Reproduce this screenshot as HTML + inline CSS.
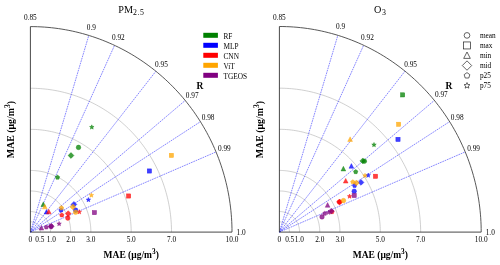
<!DOCTYPE html>
<html><head><meta charset="utf-8"><style>
html,body{margin:0;padding:0;background:#fff;width:500px;height:265px;overflow:hidden}
svg{display:block;will-change:transform}
text{font-family:"Liberation Serif", serif;fill:#000}
</style></head><body>
<svg width="500" height="265" viewBox="0 0 500 265">
<path d="M40.48,232.10 L40.48,231.92 L40.47,231.74 L40.47,231.56 L40.46,231.38 L40.44,231.20 L40.42,231.03 L40.40,230.85 L40.38,230.67 L40.36,230.49 L40.33,230.32 L40.29,230.14 L40.26,229.96 L40.22,229.79 L40.18,229.61 L40.14,229.44 L40.09,229.27 L40.04,229.10 L39.99,228.92 L39.93,228.75 L39.87,228.59 L39.81,228.42 L39.75,228.25 L39.68,228.09 L39.61,227.92 L39.54,227.76 L39.46,227.60 L39.38,227.44 L39.30,227.28 L39.22,227.12 L39.13,226.96 L39.04,226.81 L38.95,226.66 L38.85,226.50 L38.76,226.35 L38.66,226.21 L38.55,226.06 L38.45,225.92 L38.34,225.77 L38.23,225.63 L38.12,225.50 L38.01,225.36 L37.89,225.22 L37.77,225.09 L37.65,224.96 L37.53,224.83 L37.40,224.71 L37.27,224.59 L37.14,224.46 L37.01,224.35 L36.88,224.23 L36.74,224.11 L36.61,224.00 L36.47,223.89 L36.32,223.79 L36.18,223.68 L36.04,223.58 L35.89,223.48 L35.74,223.39 L35.59,223.29 L35.44,223.20 L35.29,223.11 L35.13,223.03 L34.98,222.94 L34.82,222.86 L34.66,222.79 L34.50,222.71 L34.34,222.64 L34.18,222.57 L34.01,222.51 L33.85,222.44 L33.68,222.38 L33.51,222.33 L33.35,222.27 L33.18,222.22 L33.01,222.18 L32.84,222.13 L32.67,222.09 L32.50,222.05 L32.32,222.01 L32.15,221.98 L31.98,221.95 L31.80,221.92 L31.63,221.90 L31.45,221.88 L31.28,221.86 L31.10,221.85 L30.93,221.84 L30.75,221.83 L30.58,221.83 L30.40,221.82" fill="none" stroke="#b0b0b0" stroke-width="0.6"/>
<path d="M50.56,232.10 L50.56,231.74 L50.55,231.38 L50.53,231.02 L50.51,230.67 L50.48,230.31 L50.45,229.95 L50.41,229.60 L50.36,229.24 L50.31,228.89 L50.25,228.53 L50.19,228.18 L50.12,227.83 L50.04,227.48 L49.96,227.13 L49.87,226.78 L49.78,226.44 L49.68,226.09 L49.57,225.75 L49.46,225.41 L49.34,225.07 L49.22,224.74 L49.09,224.40 L48.96,224.07 L48.82,223.74 L48.67,223.42 L48.52,223.09 L48.36,222.77 L48.20,222.45 L48.03,222.14 L47.86,221.82 L47.68,221.52 L47.50,221.21 L47.31,220.91 L47.11,220.61 L46.91,220.31 L46.71,220.02 L46.50,219.73 L46.29,219.45 L46.07,219.17 L45.84,218.89 L45.61,218.62 L45.38,218.35 L45.14,218.08 L44.90,217.82 L44.66,217.57 L44.40,217.32 L44.15,217.07 L43.89,216.83 L43.63,216.59 L43.36,216.36 L43.09,216.13 L42.81,215.91 L42.53,215.69 L42.25,215.47 L41.96,215.27 L41.67,215.06 L41.38,214.87 L41.08,214.67 L40.78,214.49 L40.48,214.30 L40.17,214.13 L39.86,213.96 L39.55,213.79 L39.24,213.63 L38.92,213.48 L38.60,213.33 L38.28,213.18 L37.95,213.05 L37.62,212.91 L37.30,212.79 L36.96,212.67 L36.63,212.56 L36.29,212.45 L35.96,212.35 L35.62,212.25 L35.28,212.16 L34.94,212.08 L34.59,212.00 L34.25,211.93 L33.90,211.86 L33.55,211.80 L33.21,211.75 L32.86,211.70 L32.51,211.66 L32.16,211.63 L31.81,211.60 L31.46,211.58 L31.10,211.56 L30.75,211.55 L30.40,211.55" fill="none" stroke="#b0b0b0" stroke-width="0.6"/>
<path d="M70.72,232.10 L70.71,231.38 L70.70,230.67 L70.66,229.95 L70.62,229.23 L70.57,228.52 L70.50,227.80 L70.42,227.09 L70.33,226.38 L70.22,225.67 L70.11,224.96 L69.98,224.26 L69.84,223.55 L69.69,222.85 L69.52,222.16 L69.35,221.46 L69.16,220.77 L68.96,220.08 L68.75,219.40 L68.52,218.72 L68.29,218.04 L68.04,217.37 L67.78,216.70 L67.51,216.04 L67.23,215.38 L66.94,214.73 L66.64,214.08 L66.33,213.44 L66.00,212.80 L65.66,212.17 L65.32,211.55 L64.96,210.93 L64.59,210.32 L64.22,209.72 L63.83,209.12 L63.43,208.53 L63.02,207.94 L62.60,207.37 L62.17,206.80 L61.73,206.23 L61.29,205.68 L60.83,205.14 L60.36,204.60 L59.89,204.07 L59.40,203.55 L58.91,203.04 L58.41,202.54 L57.90,202.04 L57.38,201.56 L56.85,201.08 L56.32,200.62 L55.77,200.16 L55.22,199.71 L54.67,199.28 L54.10,198.85 L53.53,198.43 L52.95,198.03 L52.36,197.63 L51.77,197.25 L51.17,196.87 L50.56,196.51 L49.95,196.15 L49.33,195.81 L48.70,195.48 L48.08,195.16 L47.44,194.85 L46.80,194.55 L46.15,194.27 L45.50,193.99 L44.85,193.73 L44.19,193.48 L43.53,193.24 L42.86,193.01 L42.19,192.80 L41.51,192.59 L40.84,192.40 L40.15,192.22 L39.47,192.05 L38.78,191.90 L38.09,191.76 L37.40,191.62 L36.71,191.51 L36.01,191.40 L35.31,191.31 L34.61,191.23 L33.91,191.16 L33.21,191.10 L32.51,191.06 L31.81,191.03 L31.10,191.01 L30.40,191.00" fill="none" stroke="#b0b0b0" stroke-width="0.6"/>
<path d="M90.88,232.10 L90.87,231.02 L90.84,229.95 L90.80,228.87 L90.73,227.80 L90.65,226.73 L90.55,225.66 L90.43,224.59 L90.29,223.52 L90.14,222.46 L89.96,221.39 L89.77,220.34 L89.56,219.28 L89.33,218.23 L89.08,217.19 L88.82,216.14 L88.54,215.11 L88.24,214.08 L87.92,213.05 L87.58,212.03 L87.23,211.01 L86.86,210.01 L86.48,209.01 L86.07,208.01 L85.65,207.02 L85.21,206.05 L84.76,205.07 L84.29,204.11 L83.80,203.16 L83.30,202.21 L82.78,201.28 L82.24,200.35 L81.69,199.43 L81.12,198.52 L80.54,197.63 L79.94,196.74 L79.33,195.86 L78.70,195.00 L78.06,194.14 L77.40,193.30 L76.73,192.47 L76.04,191.65 L75.35,190.85 L74.63,190.05 L73.91,189.27 L73.17,188.51 L72.41,187.75 L71.65,187.01 L70.87,186.29 L70.08,185.57 L69.28,184.87 L68.46,184.19 L67.64,183.52 L66.80,182.86 L65.95,182.22 L65.09,181.60 L64.22,180.99 L63.34,180.40 L62.45,179.82 L61.55,179.26 L60.64,178.71 L59.72,178.18 L58.79,177.67 L57.86,177.17 L56.91,176.69 L55.96,176.23 L55.00,175.78 L54.03,175.35 L53.06,174.94 L52.07,174.54 L51.09,174.17 L50.09,173.81 L49.09,173.47 L48.08,173.14 L47.07,172.84 L46.05,172.55 L45.03,172.28 L44.01,172.03 L42.97,171.80 L41.94,171.58 L40.90,171.39 L39.86,171.21 L38.82,171.05 L37.77,170.91 L36.72,170.79 L35.67,170.68 L34.62,170.60 L33.57,170.53 L32.51,170.49 L31.46,170.46 L30.40,170.45" fill="none" stroke="#b0b0b0" stroke-width="0.6"/>
<path d="M131.20,232.10 L131.18,230.31 L131.14,228.51 L131.06,226.72 L130.95,224.93 L130.82,223.14 L130.65,221.36 L130.45,219.58 L130.22,217.80 L129.96,216.03 L129.67,214.26 L129.35,212.49 L129.00,210.74 L128.62,208.99 L128.21,207.24 L127.77,205.51 L127.30,203.78 L126.80,202.06 L126.27,200.35 L125.71,198.65 L125.12,196.96 L124.50,195.28 L123.86,193.61 L123.19,191.95 L122.49,190.31 L121.76,188.68 L121.00,187.06 L120.21,185.45 L119.40,183.86 L118.56,182.29 L117.70,180.72 L116.80,179.18 L115.88,177.65 L114.94,176.14 L113.97,174.64 L112.97,173.17 L111.95,171.71 L110.90,170.26 L109.83,168.84 L108.74,167.44 L107.62,166.05 L106.47,164.69 L105.31,163.35 L104.12,162.02 L102.91,160.72 L101.68,159.44 L100.42,158.19 L99.15,156.95 L97.85,155.74 L96.53,154.55 L95.19,153.39 L93.84,152.25 L92.46,151.13 L91.06,150.04 L89.65,148.97 L88.22,147.93 L86.77,146.92 L85.30,145.93 L83.82,144.96 L82.32,144.03 L80.80,143.12 L79.27,142.23 L77.72,141.38 L76.16,140.55 L74.59,139.75 L73.00,138.98 L71.40,138.23 L69.79,137.52 L68.16,136.83 L66.52,136.17 L64.88,135.55 L63.22,134.95 L61.55,134.38 L59.87,133.84 L58.18,133.33 L56.49,132.85 L54.79,132.40 L53.08,131.98 L51.36,131.60 L49.63,131.24 L47.90,130.91 L46.17,130.62 L44.43,130.35 L42.68,130.12 L40.94,129.91 L39.19,129.74 L37.43,129.60 L35.68,129.49 L33.92,129.41 L32.16,129.37 L30.40,129.35" fill="none" stroke="#b0b0b0" stroke-width="0.6"/>
<path d="M171.52,232.10 L171.50,229.59 L171.43,227.08 L171.33,224.57 L171.18,222.07 L170.98,219.56 L170.75,217.06 L170.47,214.57 L170.15,212.08 L169.78,209.60 L169.38,207.12 L168.93,204.65 L168.44,202.19 L167.90,199.74 L167.33,197.30 L166.71,194.87 L166.05,192.45 L165.35,190.04 L164.61,187.65 L163.83,185.27 L163.01,182.90 L162.15,180.55 L161.24,178.21 L160.30,175.89 L159.32,173.59 L158.30,171.31 L157.24,169.04 L156.14,166.79 L155.00,164.57 L153.83,162.36 L152.61,160.18 L151.36,158.01 L150.08,155.87 L148.75,153.75 L147.39,151.66 L146.00,149.59 L144.57,147.55 L143.10,145.53 L141.60,143.54 L140.07,141.57 L138.50,139.64 L136.90,137.73 L135.27,135.85 L133.61,133.99 L131.91,132.17 L130.19,130.38 L128.43,128.62 L126.64,126.89 L124.83,125.20 L122.98,123.54 L121.11,121.90 L119.21,120.31 L117.28,118.74 L115.33,117.22 L113.35,115.72 L111.34,114.26 L109.31,112.84 L107.26,111.46 L105.18,110.11 L103.08,108.80 L100.96,107.52 L98.82,106.29 L96.65,105.09 L94.47,103.93 L92.26,102.81 L90.04,101.73 L87.80,100.69 L85.54,99.69 L83.26,98.72 L80.97,97.80 L78.67,96.93 L76.34,96.09 L74.01,95.29 L71.66,94.54 L69.30,93.82 L66.92,93.15 L64.54,92.52 L62.15,91.94 L59.74,91.39 L57.33,90.89 L54.91,90.44 L52.48,90.02 L50.04,89.65 L47.60,89.32 L45.15,89.04 L42.70,88.80 L40.24,88.60 L37.79,88.45 L35.33,88.34 L32.86,88.27 L30.40,88.25" fill="none" stroke="#b0b0b0" stroke-width="0.6"/>
<line x1="30.40" y1="232.10" x2="88.79" y2="35.41" stroke="#0000ff" stroke-width="0.6" stroke-dasharray="1.7 0.8" opacity="0.8"/>
<line x1="30.40" y1="232.10" x2="114.55" y2="45.36" stroke="#0000ff" stroke-width="0.6" stroke-dasharray="1.7 0.8" opacity="0.8"/>
<line x1="30.40" y1="232.10" x2="155.86" y2="71.24" stroke="#0000ff" stroke-width="0.6" stroke-dasharray="1.7 0.8" opacity="0.8"/>
<line x1="30.40" y1="232.10" x2="185.21" y2="100.46" stroke="#0000ff" stroke-width="0.6" stroke-dasharray="1.7 0.8" opacity="0.8"/>
<line x1="30.40" y1="232.10" x2="200.43" y2="121.69" stroke="#0000ff" stroke-width="0.6" stroke-dasharray="1.7 0.8" opacity="0.8"/>
<line x1="30.40" y1="232.10" x2="216.03" y2="151.94" stroke="#0000ff" stroke-width="0.6" stroke-dasharray="1.7 0.8" opacity="0.8"/>
<path d="M232.00,232.10 L231.97,228.51 L231.88,224.93 L231.72,221.34 L231.51,217.77 L231.23,214.19 L230.90,210.62 L230.50,207.06 L230.04,203.50 L229.52,199.95 L228.94,196.42 L228.30,192.89 L227.59,189.37 L226.83,185.87 L226.01,182.39 L225.13,178.91 L224.19,175.46 L223.19,172.02 L222.13,168.60 L221.02,165.20 L219.84,161.81 L218.61,158.46 L217.32,155.12 L215.97,151.80 L214.57,148.52 L213.11,145.25 L211.60,142.01 L210.03,138.80 L208.40,135.62 L206.72,132.47 L204.99,129.35 L203.20,126.26 L201.37,123.20 L199.48,120.18 L197.53,117.19 L195.54,114.23 L193.50,111.31 L191.40,108.43 L189.26,105.58 L187.07,102.77 L184.83,100.01 L182.55,97.28 L180.22,94.59 L177.84,91.95 L175.42,89.35 L172.95,86.79 L170.44,84.28 L167.89,81.81 L165.30,79.38 L162.66,77.01 L159.99,74.68 L157.27,72.40 L154.52,70.16 L151.73,67.98 L148.90,65.85 L146.03,63.76 L143.13,61.73 L140.20,59.75 L137.23,57.83 L134.23,55.95 L131.20,54.13 L128.14,52.37 L125.05,50.65 L121.92,49.00 L118.78,47.40 L115.60,45.85 L112.40,44.37 L109.17,42.94 L105.92,41.56 L102.65,40.25 L99.35,38.99 L96.03,37.80 L92.70,36.66 L89.34,35.58 L85.97,34.56 L82.58,33.60 L79.17,32.70 L75.75,31.87 L72.31,31.09 L68.87,30.38 L65.41,29.72 L61.94,29.13 L58.46,28.60 L54.97,28.13 L51.47,27.73 L47.97,27.38 L44.46,27.10 L40.95,26.88 L37.44,26.73 L33.92,26.63 L30.40,26.60" fill="none" stroke="#3a3a3a" stroke-width="0.85"/>
<line x1="30.40" y1="26.60" x2="30.40" y2="232.10" stroke="#333" stroke-width="0.9"/>
<line x1="30.40" y1="232.10" x2="232.00" y2="232.10" stroke="#333" stroke-width="0.9"/>
<text x="30.40" y="20.35" text-anchor="middle" font-size="7.3">0.85</text>
<text x="91.42" y="29.56" text-anchor="middle" font-size="7.3">0.9</text>
<text x="118.34" y="39.96" text-anchor="middle" font-size="7.3">0.92</text>
<text x="161.51" y="67.00" text-anchor="middle" font-size="7.3">0.95</text>
<text x="192.17" y="97.54" text-anchor="middle" font-size="7.3">0.97</text>
<text x="208.08" y="119.72" text-anchor="middle" font-size="7.3">0.98</text>
<text x="224.38" y="151.33" text-anchor="middle" font-size="7.3">0.99</text>
<text x="241.07" y="235.10" text-anchor="middle" font-size="7.3">1.0</text>
<text x="30.40" y="242" text-anchor="middle" font-size="7.3">0</text>
<text x="39.88" y="242" text-anchor="middle" font-size="7.3">0.5</text>
<text x="51.26" y="242" text-anchor="middle" font-size="7.3">1.0</text>
<text x="70.72" y="242" text-anchor="middle" font-size="7.3">2.0</text>
<text x="90.88" y="242" text-anchor="middle" font-size="7.3">3.0</text>
<text x="131.20" y="242" text-anchor="middle" font-size="7.3">5.0</text>
<text x="171.52" y="242" text-anchor="middle" font-size="7.3">7.0</text>
<text x="232.00" y="242" text-anchor="middle" font-size="7.3">10.0</text>
<text x="200.00" y="88.6" text-anchor="middle" font-size="9.5" font-weight="bold">R</text>
<text x="131.20" y="257.9" text-anchor="middle" font-size="9.5" font-weight="bold">MAE (μg/m<tspan dy="-4.2" font-size="7.3">3</tspan><tspan dy="4.2">)</tspan></text>
<text transform="translate(14.20,129.6) rotate(-90) scale(1.035,1)" text-anchor="middle" font-size="9.5" font-weight="bold">MAE (μg/m<tspan dy="-4.2" font-size="7.3">3</tspan><tspan dy="4.2">)</tspan></text>
<path d="M289.49,232.10 L289.49,231.92 L289.48,231.74 L289.48,231.56 L289.47,231.38 L289.45,231.20 L289.43,231.03 L289.41,230.85 L289.39,230.67 L289.37,230.49 L289.34,230.31 L289.30,230.14 L289.27,229.96 L289.23,229.79 L289.19,229.61 L289.15,229.44 L289.10,229.27 L289.05,229.09 L289.00,228.92 L288.94,228.75 L288.88,228.58 L288.82,228.42 L288.76,228.25 L288.69,228.08 L288.62,227.92 L288.54,227.76 L288.47,227.59 L288.39,227.43 L288.31,227.27 L288.22,227.12 L288.14,226.96 L288.05,226.81 L287.96,226.65 L287.86,226.50 L287.76,226.35 L287.67,226.20 L287.56,226.06 L287.46,225.91 L287.35,225.77 L287.24,225.63 L287.13,225.49 L287.02,225.36 L286.90,225.22 L286.78,225.09 L286.66,224.96 L286.53,224.83 L286.41,224.71 L286.28,224.58 L286.15,224.46 L286.02,224.34 L285.89,224.23 L285.75,224.11 L285.61,224.00 L285.47,223.89 L285.33,223.78 L285.19,223.68 L285.04,223.58 L284.90,223.48 L284.75,223.38 L284.60,223.29 L284.44,223.20 L284.29,223.11 L284.14,223.02 L283.98,222.94 L283.82,222.86 L283.66,222.78 L283.50,222.71 L283.34,222.64 L283.18,222.57 L283.02,222.50 L282.85,222.44 L282.68,222.38 L282.52,222.32 L282.35,222.27 L282.18,222.22 L282.01,222.17 L281.84,222.13 L281.67,222.08 L281.50,222.04 L281.33,222.01 L281.15,221.98 L280.98,221.95 L280.80,221.92 L280.63,221.90 L280.45,221.88 L280.28,221.86 L280.10,221.85 L279.93,221.83 L279.75,221.83 L279.58,221.82 L279.40,221.82" fill="none" stroke="#b0b0b0" stroke-width="0.6"/>
<path d="M299.58,232.10 L299.58,231.74 L299.57,231.38 L299.55,231.02 L299.53,230.67 L299.50,230.31 L299.47,229.95 L299.43,229.59 L299.38,229.24 L299.33,228.88 L299.27,228.53 L299.21,228.18 L299.14,227.83 L299.06,227.48 L298.98,227.13 L298.89,226.78 L298.80,226.43 L298.70,226.09 L298.59,225.75 L298.48,225.41 L298.36,225.07 L298.24,224.73 L298.11,224.40 L297.98,224.07 L297.84,223.74 L297.69,223.41 L297.54,223.09 L297.38,222.77 L297.22,222.45 L297.05,222.13 L296.88,221.82 L296.70,221.51 L296.51,221.20 L296.32,220.90 L296.13,220.60 L295.93,220.31 L295.73,220.02 L295.52,219.73 L295.30,219.44 L295.08,219.16 L294.86,218.88 L294.63,218.61 L294.40,218.34 L294.16,218.08 L293.92,217.82 L293.67,217.56 L293.42,217.31 L293.16,217.06 L292.90,216.82 L292.64,216.58 L292.37,216.35 L292.10,216.12 L291.82,215.90 L291.54,215.68 L291.26,215.47 L290.97,215.26 L290.68,215.05 L290.39,214.86 L290.09,214.66 L289.79,214.48 L289.49,214.29 L289.18,214.12 L288.87,213.95 L288.56,213.78 L288.25,213.62 L287.93,213.47 L287.61,213.32 L287.28,213.17 L286.96,213.04 L286.63,212.91 L286.30,212.78 L285.97,212.66 L285.64,212.55 L285.30,212.44 L284.96,212.34 L284.62,212.24 L284.28,212.15 L283.94,212.07 L283.60,211.99 L283.25,211.92 L282.90,211.85 L282.56,211.79 L282.21,211.74 L281.86,211.69 L281.51,211.65 L281.16,211.62 L280.81,211.59 L280.46,211.57 L280.10,211.55 L279.75,211.54 L279.40,211.54" fill="none" stroke="#b0b0b0" stroke-width="0.6"/>
<path d="M319.76,232.10 L319.75,231.38 L319.74,230.66 L319.70,229.95 L319.66,229.23 L319.61,228.52 L319.54,227.80 L319.46,227.09 L319.37,226.38 L319.26,225.67 L319.15,224.96 L319.02,224.25 L318.88,223.55 L318.73,222.85 L318.56,222.15 L318.38,221.46 L318.20,220.77 L318.00,220.08 L317.78,219.39 L317.56,218.71 L317.33,218.04 L317.08,217.36 L316.82,216.70 L316.55,216.03 L316.27,215.37 L315.98,214.72 L315.68,214.07 L315.36,213.43 L315.04,212.80 L314.70,212.16 L314.35,211.54 L314.00,210.92 L313.63,210.31 L313.25,209.70 L312.86,209.11 L312.46,208.51 L312.05,207.93 L311.63,207.35 L311.20,206.78 L310.77,206.22 L310.32,205.67 L309.86,205.12 L309.39,204.59 L308.92,204.06 L308.43,203.54 L307.94,203.02 L307.44,202.52 L306.93,202.03 L306.41,201.54 L305.88,201.07 L305.34,200.60 L304.80,200.14 L304.25,199.70 L303.69,199.26 L303.12,198.83 L302.55,198.42 L301.97,198.01 L301.38,197.61 L300.79,197.23 L300.19,196.85 L299.58,196.49 L298.97,196.14 L298.35,195.79 L297.72,195.46 L297.09,195.14 L296.46,194.83 L295.82,194.54 L295.17,194.25 L294.52,193.97 L293.86,193.71 L293.20,193.46 L292.54,193.22 L291.87,192.99 L291.20,192.78 L290.52,192.57 L289.85,192.38 L289.16,192.20 L288.48,192.03 L287.79,191.88 L287.10,191.74 L286.41,191.60 L285.71,191.49 L285.02,191.38 L284.32,191.29 L283.62,191.21 L282.92,191.14 L282.22,191.08 L281.51,191.04 L280.81,191.01 L280.10,190.99 L279.40,190.98" fill="none" stroke="#b0b0b0" stroke-width="0.6"/>
<path d="M339.94,232.10 L339.93,231.02 L339.90,229.95 L339.86,228.87 L339.79,227.80 L339.71,226.72 L339.61,225.65 L339.49,224.58 L339.35,223.52 L339.19,222.45 L339.02,221.39 L338.83,220.33 L338.62,219.28 L338.39,218.23 L338.14,217.18 L337.88,216.14 L337.59,215.10 L337.29,214.07 L336.98,213.04 L336.64,212.02 L336.29,211.00 L335.92,210.00 L335.53,208.99 L335.13,208.00 L334.71,207.01 L334.27,206.03 L333.81,205.06 L333.34,204.10 L332.85,203.14 L332.35,202.20 L331.83,201.26 L331.29,200.33 L330.74,199.41 L330.17,198.51 L329.59,197.61 L328.99,196.72 L328.38,195.85 L327.75,194.98 L327.11,194.13 L326.45,193.28 L325.78,192.45 L325.09,191.63 L324.39,190.83 L323.68,190.03 L322.95,189.25 L322.21,188.49 L321.45,187.73 L320.69,186.99 L319.91,186.26 L319.12,185.55 L318.31,184.85 L317.50,184.17 L316.67,183.50 L315.83,182.84 L314.98,182.20 L314.12,181.57 L313.25,180.96 L312.37,180.37 L311.48,179.79 L310.58,179.23 L309.67,178.68 L308.75,178.15 L307.82,177.64 L306.88,177.14 L305.94,176.66 L304.99,176.20 L304.02,175.75 L303.05,175.32 L302.08,174.91 L301.10,174.52 L300.11,174.14 L299.11,173.78 L298.11,173.44 L297.10,173.12 L296.09,172.81 L295.07,172.52 L294.05,172.25 L293.02,172.00 L291.99,171.77 L290.95,171.55 L289.91,171.36 L288.87,171.18 L287.83,171.02 L286.78,170.88 L285.73,170.76 L284.68,170.65 L283.62,170.57 L282.57,170.50 L281.51,170.46 L280.46,170.43 L279.40,170.42" fill="none" stroke="#b0b0b0" stroke-width="0.6"/>
<path d="M380.30,232.10 L380.28,230.31 L380.24,228.51 L380.16,226.72 L380.05,224.93 L379.92,223.14 L379.75,221.35 L379.55,219.57 L379.32,217.79 L379.06,216.02 L378.77,214.25 L378.45,212.48 L378.10,210.73 L377.71,208.98 L377.30,207.23 L376.86,205.49 L376.39,203.76 L375.89,202.04 L375.36,200.33 L374.80,198.63 L374.21,196.94 L373.60,195.26 L372.95,193.59 L372.28,191.93 L371.58,190.29 L370.85,188.65 L370.09,187.04 L369.30,185.43 L368.49,183.84 L367.65,182.26 L366.78,180.70 L365.89,179.15 L364.97,177.62 L364.02,176.11 L363.05,174.61 L362.05,173.14 L361.03,171.68 L359.98,170.23 L358.91,168.81 L357.81,167.41 L356.69,166.02 L355.55,164.66 L354.38,163.31 L353.19,161.99 L351.98,160.69 L350.75,159.41 L349.49,158.15 L348.21,156.92 L346.92,155.70 L345.60,154.52 L344.26,153.35 L342.90,152.21 L341.52,151.09 L340.12,150.00 L338.71,148.93 L337.27,147.89 L335.82,146.87 L334.35,145.88 L332.87,144.92 L331.37,143.98 L329.85,143.07 L328.32,142.19 L326.77,141.33 L325.21,140.50 L323.63,139.70 L322.04,138.93 L320.44,138.19 L318.82,137.47 L317.20,136.79 L315.56,136.13 L313.91,135.50 L312.25,134.90 L310.58,134.33 L308.90,133.79 L307.21,133.28 L305.51,132.80 L303.81,132.35 L302.10,131.93 L300.38,131.55 L298.65,131.19 L296.92,130.86 L295.18,130.57 L293.44,130.30 L291.70,130.07 L289.95,129.86 L288.19,129.69 L286.44,129.55 L284.68,129.44 L282.92,129.36 L281.16,129.32 L279.40,129.30" fill="none" stroke="#b0b0b0" stroke-width="0.6"/>
<path d="M420.66,232.10 L420.64,229.59 L420.57,227.08 L420.47,224.57 L420.32,222.06 L420.12,219.56 L419.89,217.06 L419.61,214.56 L419.29,212.07 L418.92,209.59 L418.51,207.11 L418.06,204.64 L417.57,202.18 L417.04,199.73 L416.46,197.28 L415.85,194.85 L415.19,192.43 L414.49,190.02 L413.75,187.63 L412.96,185.24 L412.14,182.88 L411.28,180.52 L410.37,178.19 L409.43,175.87 L408.45,173.56 L407.43,171.28 L406.36,169.01 L405.26,166.76 L404.13,164.53 L402.95,162.33 L401.73,160.14 L400.48,157.98 L399.20,155.83 L397.87,153.72 L396.51,151.62 L395.11,149.55 L393.68,147.51 L392.22,145.49 L390.71,143.49 L389.18,141.53 L387.61,139.59 L386.01,137.68 L384.38,135.80 L382.71,133.95 L381.01,132.12 L379.29,130.33 L377.53,128.57 L375.74,126.84 L373.92,125.15 L372.07,123.48 L370.20,121.85 L368.30,120.25 L366.37,118.69 L364.41,117.16 L362.43,115.67 L360.42,114.21 L358.39,112.78 L356.34,111.40 L354.26,110.05 L352.15,108.74 L350.03,107.46 L347.88,106.22 L345.72,105.03 L343.53,103.87 L341.32,102.75 L339.10,101.66 L336.86,100.62 L334.59,99.62 L332.32,98.66 L330.02,97.74 L327.71,96.86 L325.39,96.02 L323.05,95.22 L320.70,94.47 L318.34,93.76 L315.96,93.08 L313.57,92.46 L311.18,91.87 L308.77,91.32 L306.35,90.82 L303.93,90.37 L301.50,89.95 L299.06,89.58 L296.62,89.25 L294.17,88.97 L291.71,88.73 L289.25,88.53 L286.79,88.38 L284.33,88.27 L281.87,88.20 L279.40,88.18" fill="none" stroke="#b0b0b0" stroke-width="0.6"/>
<line x1="279.40" y1="232.10" x2="337.85" y2="35.31" stroke="#0000ff" stroke-width="0.6" stroke-dasharray="1.7 0.8" opacity="0.8"/>
<line x1="279.40" y1="232.10" x2="363.64" y2="45.27" stroke="#0000ff" stroke-width="0.6" stroke-dasharray="1.7 0.8" opacity="0.8"/>
<line x1="279.40" y1="232.10" x2="404.99" y2="71.16" stroke="#0000ff" stroke-width="0.6" stroke-dasharray="1.7 0.8" opacity="0.8"/>
<line x1="279.40" y1="232.10" x2="434.36" y2="100.40" stroke="#0000ff" stroke-width="0.6" stroke-dasharray="1.7 0.8" opacity="0.8"/>
<line x1="279.40" y1="232.10" x2="449.60" y2="121.64" stroke="#0000ff" stroke-width="0.6" stroke-dasharray="1.7 0.8" opacity="0.8"/>
<line x1="279.40" y1="232.10" x2="465.21" y2="151.90" stroke="#0000ff" stroke-width="0.6" stroke-dasharray="1.7 0.8" opacity="0.8"/>
<path d="M481.20,232.10 L481.17,228.51 L481.08,224.92 L480.92,221.34 L480.71,217.76 L480.43,214.18 L480.09,210.61 L479.70,207.04 L479.24,203.49 L478.72,199.94 L478.13,196.40 L477.49,192.87 L476.79,189.35 L476.03,185.85 L475.21,182.36 L474.32,178.89 L473.38,175.43 L472.38,171.99 L471.32,168.57 L470.21,165.16 L469.03,161.78 L467.80,158.42 L466.51,155.08 L465.16,151.77 L463.75,148.47 L462.29,145.21 L460.78,141.97 L459.21,138.76 L457.58,135.58 L455.90,132.42 L454.16,129.30 L452.38,126.21 L450.54,123.15 L448.64,120.12 L446.70,117.13 L444.70,114.17 L442.66,111.25 L440.56,108.37 L438.42,105.52 L436.23,102.71 L433.99,99.94 L431.70,97.21 L429.37,94.53 L426.99,91.88 L424.56,89.28 L422.09,86.72 L419.58,84.20 L417.03,81.73 L414.43,79.31 L411.79,76.93 L409.11,74.60 L406.40,72.32 L403.64,70.08 L400.85,67.90 L398.02,65.77 L395.15,63.68 L392.25,61.65 L389.31,59.67 L386.34,57.74 L383.33,55.87 L380.30,54.05 L377.23,52.28 L374.14,50.57 L371.02,48.91 L367.86,47.31 L364.68,45.76 L361.48,44.28 L358.25,42.84 L355.00,41.47 L351.72,40.16 L348.42,38.90 L345.10,37.70 L341.76,36.56 L338.40,35.48 L335.02,34.46 L331.63,33.51 L328.22,32.61 L324.80,31.77 L321.36,30.99 L317.91,30.28 L314.44,29.62 L310.97,29.03 L307.49,28.50 L303.99,28.03 L300.49,27.63 L296.99,27.28 L293.48,27.00 L289.96,26.78 L286.44,26.63 L282.92,26.53 L279.40,26.50" fill="none" stroke="#3a3a3a" stroke-width="0.85"/>
<line x1="279.40" y1="26.50" x2="279.40" y2="232.10" stroke="#333" stroke-width="0.9"/>
<line x1="279.40" y1="232.10" x2="481.20" y2="232.10" stroke="#333" stroke-width="0.9"/>
<text x="279.40" y="20.25" text-anchor="middle" font-size="7.3">0.85</text>
<text x="340.48" y="29.46" text-anchor="middle" font-size="7.3">0.9</text>
<text x="367.43" y="39.86" text-anchor="middle" font-size="7.3">0.92</text>
<text x="410.64" y="66.92" text-anchor="middle" font-size="7.3">0.95</text>
<text x="441.33" y="97.47" text-anchor="middle" font-size="7.3">0.97</text>
<text x="457.26" y="119.67" text-anchor="middle" font-size="7.3">0.98</text>
<text x="473.57" y="151.29" text-anchor="middle" font-size="7.3">0.99</text>
<text x="490.28" y="235.10" text-anchor="middle" font-size="7.3">1.0</text>
<text x="279.40" y="242" text-anchor="middle" font-size="7.3">0</text>
<text x="289.69" y="242" text-anchor="middle" font-size="7.3">0.5</text>
<text x="299.28" y="242" text-anchor="middle" font-size="7.3">1.0</text>
<text x="319.76" y="242" text-anchor="middle" font-size="7.3">2.0</text>
<text x="339.94" y="242" text-anchor="middle" font-size="7.3">3.0</text>
<text x="380.30" y="242" text-anchor="middle" font-size="7.3">5.0</text>
<text x="420.66" y="242" text-anchor="middle" font-size="7.3">7.0</text>
<text x="481.20" y="242" text-anchor="middle" font-size="7.3">10.0</text>
<text x="449.00" y="88.6" text-anchor="middle" font-size="9.5" font-weight="bold">R</text>
<text x="380.30" y="257.9" text-anchor="middle" font-size="9.5" font-weight="bold">MAE (μg/m<tspan dy="-4.2" font-size="7.3">3</tspan><tspan dy="4.2">)</tspan></text>
<text transform="translate(263.20,129.6) rotate(-90) scale(1.035,1)" text-anchor="middle" font-size="9.5" font-weight="bold">MAE (μg/m<tspan dy="-4.2" font-size="7.3">3</tspan><tspan dy="4.2">)</tspan></text>
<polygon points="43.30,201.92 45.67,206.56 40.93,206.56" fill="#008000" fill-opacity="0.75" stroke="#008000" stroke-opacity="0.75" stroke-width="0.5"/>
<polygon points="57.50,175.10 59.69,176.69 58.85,179.26 56.15,179.26 55.31,176.69" fill="#008000" fill-opacity="0.75" stroke="#008000" stroke-opacity="0.75" stroke-width="0.5"/>
<polygon points="71.00,152.56 73.94,155.50 71.00,158.44 68.06,155.50" fill="#008000" fill-opacity="0.75" stroke="#008000" stroke-opacity="0.75" stroke-width="0.5"/>
<circle cx="78.50" cy="147.40" r="2.30" fill="#008000" fill-opacity="0.75" stroke="#008000" stroke-opacity="0.75" stroke-width="0.5"/>
<polygon points="91.80,124.81 92.43,126.33 94.07,126.46 92.82,127.53 93.21,129.14 91.80,128.28 90.39,129.14 90.78,127.53 89.53,126.46 91.17,126.33" fill="#008000" fill-opacity="0.75" stroke="#008000" stroke-opacity="0.75" stroke-width="0.5"/>
<polygon points="46.50,209.42 48.87,214.06 44.13,214.06" fill="#0000ff" fill-opacity="0.75" stroke="#0000ff" stroke-opacity="0.75" stroke-width="0.5"/>
<polygon points="61.00,207.90 63.19,209.49 62.35,212.06 59.65,212.06 58.81,209.49" fill="#0000ff" fill-opacity="0.75" stroke="#0000ff" stroke-opacity="0.75" stroke-width="0.5"/>
<polygon points="73.90,201.46 76.84,204.40 73.90,207.34 70.96,204.40" fill="#0000ff" fill-opacity="0.75" stroke="#0000ff" stroke-opacity="0.75" stroke-width="0.5"/>
<circle cx="75.60" cy="210.10" r="2.30" fill="#0000ff" fill-opacity="0.75" stroke="#0000ff" stroke-opacity="0.75" stroke-width="0.5"/>
<polygon points="88.40,197.41 89.03,198.93 90.67,199.06 89.42,200.13 89.81,201.74 88.40,200.88 86.99,201.74 87.38,200.13 86.13,199.06 87.77,198.93" fill="#0000ff" fill-opacity="0.75" stroke="#0000ff" stroke-opacity="0.75" stroke-width="0.5"/>
<rect x="147.28" y="168.88" width="4.23" height="4.23" fill="#0000ff" fill-opacity="0.75" stroke="#0000ff" stroke-opacity="0.75" stroke-width="0.5"/>
<polygon points="48.80,209.22 51.17,213.86 46.43,213.86" fill="#ff0000" fill-opacity="0.75" stroke="#ff0000" stroke-opacity="0.75" stroke-width="0.5"/>
<polygon points="61.80,212.80 63.99,214.39 63.15,216.96 60.45,216.96 59.61,214.39" fill="#ff0000" fill-opacity="0.75" stroke="#ff0000" stroke-opacity="0.75" stroke-width="0.5"/>
<polygon points="68.20,210.66 71.14,213.60 68.20,216.54 65.26,213.60" fill="#ff0000" fill-opacity="0.75" stroke="#ff0000" stroke-opacity="0.75" stroke-width="0.5"/>
<circle cx="67.80" cy="218.10" r="2.30" fill="#ff0000" fill-opacity="0.75" stroke="#ff0000" stroke-opacity="0.75" stroke-width="0.5"/>
<polygon points="79.30,209.61 79.93,211.13 81.57,211.26 80.32,212.33 80.71,213.94 79.30,213.08 77.89,213.94 78.28,212.33 77.03,211.26 78.67,211.13" fill="#ff0000" fill-opacity="0.75" stroke="#ff0000" stroke-opacity="0.75" stroke-width="0.5"/>
<rect x="126.48" y="193.88" width="4.23" height="4.23" fill="#ff0000" fill-opacity="0.75" stroke="#ff0000" stroke-opacity="0.75" stroke-width="0.5"/>
<polygon points="44.80,204.22 47.17,208.86 42.43,208.86" fill="#ffa500" fill-opacity="0.75" stroke="#ffa500" stroke-opacity="0.75" stroke-width="0.5"/>
<polygon points="61.40,205.60 63.59,207.19 62.75,209.76 60.05,209.76 59.21,207.19" fill="#ffa500" fill-opacity="0.75" stroke="#ffa500" stroke-opacity="0.75" stroke-width="0.5"/>
<polygon points="72.90,203.96 75.84,206.90 72.90,209.84 69.96,206.90" fill="#ffa500" fill-opacity="0.75" stroke="#ffa500" stroke-opacity="0.75" stroke-width="0.5"/>
<circle cx="75.60" cy="212.30" r="2.30" fill="#ffa500" fill-opacity="0.75" stroke="#ffa500" stroke-opacity="0.75" stroke-width="0.5"/>
<polygon points="91.40,192.91 92.03,194.43 93.67,194.56 92.42,195.63 92.81,197.24 91.40,196.38 89.99,197.24 90.38,195.63 89.13,194.56 90.77,194.43" fill="#ffa500" fill-opacity="0.75" stroke="#ffa500" stroke-opacity="0.75" stroke-width="0.5"/>
<rect x="169.28" y="153.28" width="4.23" height="4.23" fill="#ffa500" fill-opacity="0.75" stroke="#ffa500" stroke-opacity="0.75" stroke-width="0.5"/>
<polygon points="41.40,225.42 43.77,230.06 39.03,230.06" fill="#800080" fill-opacity="0.75" stroke="#800080" stroke-opacity="0.75" stroke-width="0.5"/>
<polygon points="46.30,224.90 48.49,226.49 47.65,229.06 44.95,229.06 44.11,226.49" fill="#800080" fill-opacity="0.75" stroke="#800080" stroke-opacity="0.75" stroke-width="0.5"/>
<polygon points="51.30,223.36 54.24,226.30 51.30,229.24 48.36,226.30" fill="#800080" fill-opacity="0.75" stroke="#800080" stroke-opacity="0.75" stroke-width="0.5"/>
<circle cx="51.00" cy="226.50" r="2.30" fill="#800080" fill-opacity="0.75" stroke="#800080" stroke-opacity="0.75" stroke-width="0.5"/>
<polygon points="59.10,221.41 59.73,222.93 61.37,223.06 60.12,224.13 60.51,225.74 59.10,224.88 57.69,225.74 58.08,224.13 56.83,223.06 58.47,222.93" fill="#800080" fill-opacity="0.75" stroke="#800080" stroke-opacity="0.75" stroke-width="0.5"/>
<rect x="92.28" y="210.48" width="4.23" height="4.23" fill="#800080" fill-opacity="0.75" stroke="#800080" stroke-opacity="0.75" stroke-width="0.5"/>
<polygon points="343.40,166.32 345.77,170.96 341.03,170.96" fill="#008000" fill-opacity="0.75" stroke="#008000" stroke-opacity="0.75" stroke-width="0.5"/>
<polygon points="355.70,169.50 357.89,171.09 357.05,173.66 354.35,173.66 353.51,171.09" fill="#008000" fill-opacity="0.75" stroke="#008000" stroke-opacity="0.75" stroke-width="0.5"/>
<polygon points="362.80,157.96 365.74,160.90 362.80,163.84 359.86,160.90" fill="#008000" fill-opacity="0.75" stroke="#008000" stroke-opacity="0.75" stroke-width="0.5"/>
<circle cx="364.40" cy="161.20" r="2.30" fill="#008000" fill-opacity="0.75" stroke="#008000" stroke-opacity="0.75" stroke-width="0.5"/>
<polygon points="374.00,142.41 374.63,143.93 376.27,144.06 375.02,145.13 375.41,146.74 374.00,145.88 372.59,146.74 372.98,145.13 371.73,144.06 373.37,143.93" fill="#008000" fill-opacity="0.75" stroke="#008000" stroke-opacity="0.75" stroke-width="0.5"/>
<rect x="400.48" y="92.78" width="4.23" height="4.23" fill="#008000" fill-opacity="0.75" stroke="#008000" stroke-opacity="0.75" stroke-width="0.5"/>
<polygon points="351.40,163.62 353.77,168.26 349.03,168.26" fill="#0000ff" fill-opacity="0.75" stroke="#0000ff" stroke-opacity="0.75" stroke-width="0.5"/>
<polygon points="354.60,183.30 356.79,184.89 355.95,187.46 353.25,187.46 352.41,184.89" fill="#0000ff" fill-opacity="0.75" stroke="#0000ff" stroke-opacity="0.75" stroke-width="0.5"/>
<polygon points="361.00,179.46 363.94,182.40 361.00,185.34 358.06,182.40" fill="#0000ff" fill-opacity="0.75" stroke="#0000ff" stroke-opacity="0.75" stroke-width="0.5"/>
<circle cx="354.20" cy="191.20" r="2.30" fill="#0000ff" fill-opacity="0.75" stroke="#0000ff" stroke-opacity="0.75" stroke-width="0.5"/>
<polygon points="368.20,173.01 368.83,174.53 370.47,174.66 369.22,175.73 369.61,177.34 368.20,176.48 366.79,177.34 367.18,175.73 365.93,174.66 367.57,174.53" fill="#0000ff" fill-opacity="0.75" stroke="#0000ff" stroke-opacity="0.75" stroke-width="0.5"/>
<rect x="395.88" y="137.28" width="4.23" height="4.23" fill="#0000ff" fill-opacity="0.75" stroke="#0000ff" stroke-opacity="0.75" stroke-width="0.5"/>
<polygon points="345.70,178.42 348.07,183.06 343.33,183.06" fill="#ff0000" fill-opacity="0.75" stroke="#ff0000" stroke-opacity="0.75" stroke-width="0.5"/>
<polygon points="332.00,209.50 334.19,211.09 333.35,213.66 330.65,213.66 329.81,211.09" fill="#ff0000" fill-opacity="0.75" stroke="#ff0000" stroke-opacity="0.75" stroke-width="0.5"/>
<polygon points="339.50,199.06 342.44,202.00 339.50,204.94 336.56,202.00" fill="#ff0000" fill-opacity="0.75" stroke="#ff0000" stroke-opacity="0.75" stroke-width="0.5"/>
<circle cx="339.50" cy="202.00" r="2.30" fill="#ff0000" fill-opacity="0.75" stroke="#ff0000" stroke-opacity="0.75" stroke-width="0.5"/>
<polygon points="349.60,194.01 350.23,195.53 351.87,195.66 350.62,196.73 351.01,198.34 349.60,197.48 348.19,198.34 348.58,196.73 347.33,195.66 348.97,195.53" fill="#ff0000" fill-opacity="0.75" stroke="#ff0000" stroke-opacity="0.75" stroke-width="0.5"/>
<rect x="373.38" y="174.18" width="4.23" height="4.23" fill="#ff0000" fill-opacity="0.75" stroke="#ff0000" stroke-opacity="0.75" stroke-width="0.5"/>
<polygon points="350.10,136.82 352.47,141.46 347.73,141.46" fill="#ffa500" fill-opacity="0.75" stroke="#ffa500" stroke-opacity="0.75" stroke-width="0.5"/>
<polygon points="352.80,179.70 354.99,181.29 354.15,183.86 351.45,183.86 350.61,181.29" fill="#ffa500" fill-opacity="0.75" stroke="#ffa500" stroke-opacity="0.75" stroke-width="0.5"/>
<polygon points="356.40,179.96 359.34,182.90 356.40,185.84 353.46,182.90" fill="#ffa500" fill-opacity="0.75" stroke="#ffa500" stroke-opacity="0.75" stroke-width="0.5"/>
<circle cx="343.50" cy="200.60" r="2.30" fill="#ffa500" fill-opacity="0.75" stroke="#ffa500" stroke-opacity="0.75" stroke-width="0.5"/>
<polygon points="365.00,173.21 365.63,174.73 367.27,174.86 366.02,175.93 366.41,177.54 365.00,176.68 363.59,177.54 363.98,175.93 362.73,174.86 364.37,174.73" fill="#ffa500" fill-opacity="0.75" stroke="#ffa500" stroke-opacity="0.75" stroke-width="0.5"/>
<rect x="396.48" y="122.18" width="4.23" height="4.23" fill="#ffa500" fill-opacity="0.75" stroke="#ffa500" stroke-opacity="0.75" stroke-width="0.5"/>
<polygon points="327.60,202.62 329.97,207.26 325.23,207.26" fill="#800080" fill-opacity="0.75" stroke="#800080" stroke-opacity="0.75" stroke-width="0.5"/>
<polygon points="324.80,211.20 326.99,212.79 326.15,215.36 323.45,215.36 322.61,212.79" fill="#800080" fill-opacity="0.75" stroke="#800080" stroke-opacity="0.75" stroke-width="0.5"/>
<polygon points="331.30,208.16 334.24,211.10 331.30,214.04 328.36,211.10" fill="#800080" fill-opacity="0.75" stroke="#800080" stroke-opacity="0.75" stroke-width="0.5"/>
<circle cx="322.00" cy="216.90" r="2.30" fill="#800080" fill-opacity="0.75" stroke="#800080" stroke-opacity="0.75" stroke-width="0.5"/>
<polygon points="328.60,210.11 329.23,211.63 330.87,211.76 329.62,212.83 330.01,214.44 328.60,213.58 327.19,214.44 327.58,212.83 326.33,211.76 327.97,211.63" fill="#800080" fill-opacity="0.75" stroke="#800080" stroke-opacity="0.75" stroke-width="0.5"/>
<rect x="352.08" y="193.38" width="4.23" height="4.23" fill="#800080" fill-opacity="0.75" stroke="#800080" stroke-opacity="0.75" stroke-width="0.5"/>
<text x="118.3" y="12.8" font-size="10.2">PM<tspan font-size="7.8" dy="2.0" letter-spacing="0.5">2.5</tspan></text>
<text x="374.1" y="12.8" font-size="10.2">O<tspan font-size="7.9" dy="2.0" dx="0.6">3</tspan></text>
<rect x="203.3" y="32.80" width="14.6" height="5" fill="#008000"/>
<text x="223.5" y="38.50" font-size="7.3">RF</text>
<rect x="203.3" y="42.80" width="14.6" height="5" fill="#0000ff"/>
<text x="223.5" y="48.50" font-size="7.3">MLP</text>
<rect x="203.3" y="52.80" width="14.6" height="5" fill="#ff0000"/>
<text x="223.5" y="58.50" font-size="7.3">CNN</text>
<rect x="203.3" y="62.80" width="14.6" height="5" fill="#ffa500"/>
<text x="223.5" y="68.50" font-size="7.3">ViT</text>
<rect x="203.3" y="72.80" width="14.6" height="5" fill="#800080"/>
<text x="223.5" y="78.50" font-size="7.3">TGEOS</text>
<circle cx="467.0" cy="35.4" r="2.85" fill="none" stroke="#222" stroke-width="0.7"/>
<text x="479.9" y="38.20" font-size="7.3">mean</text>
<rect x="463.5" y="41.95" width="7" height="7" fill="none" stroke="#222" stroke-width="0.7"/>
<text x="479.9" y="48.25" font-size="7.3">max</text>
<polygon points="467.00,52.00 470.30,58.40 463.70,58.40" fill="none" stroke="#222" stroke-width="0.7"/>
<text x="479.9" y="58.30" font-size="7.3">min</text>
<polygon points="467.0,60.849999999999994 471.7,65.55 467.0,70.25 462.3,65.55" fill="none" stroke="#222" stroke-width="0.7"/>
<text x="479.9" y="68.35" font-size="7.3">mid</text>
<polygon points="467.00,72.60 469.85,74.67 468.76,78.03 465.24,78.03 464.15,74.67" fill="none" stroke="#222" stroke-width="0.7"/>
<text x="479.9" y="78.40" font-size="7.3">p25</text>
<polygon points="467.00,82.55 467.82,84.52 469.95,84.69 468.33,86.08 468.82,88.16 467.00,87.05 465.18,88.16 465.67,86.08 464.05,84.69 466.18,84.52" fill="none" stroke="#222" stroke-width="0.7"/>
<text x="479.9" y="88.45" font-size="7.3">p75</text>
</svg>
</body></html>
